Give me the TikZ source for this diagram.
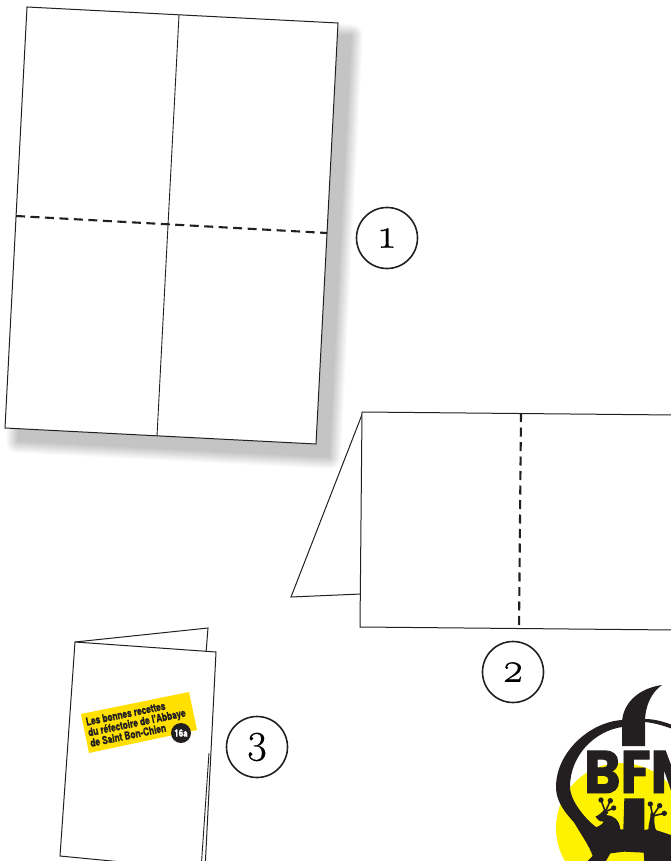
\documentclass[tikz,border=0pt]{standalone}
\usepackage{fontspec}
\newfontfamily\logofont{Poppins}[BoldFeatures={FakeBold=1.6}]
\newfontfamily\bannerfont{TeX Gyre Heros}[BoldFeatures={FakeBold=1.4}]
\newfontfamily\stepfont{Latin Modern Roman}[Numbers=OldStyle,FakeBold=0.5]
\definecolor{ink}{HTML}{231F20}
\definecolor{bannerfill}{HTML}{FFE000}
\definecolor{logofill}{HTML}{FFF200}

\begin{document}
\begin{tikzpicture}[
  x=1pt, y=-1pt,
  sheet/.style={draw=ink, line width=1pt, line join=miter, fill=white},
  crease/.style={draw=ink, line width=0.9pt},
  foldline/.style={draw=ink, line width=2.1pt, dash pattern=on 9pt off 5.5pt},
  stepnum/.style={draw=ink, line width=1.6pt, circle, minimum size=61pt, inner sep=0pt,
    font=\stepfont\fontsize{42}{42}\selectfont},
  toe/.style={fill=ink, draw=none},
  digit/.style={draw=ink, line width=1.6pt}
]
\clip[use as bounding box] (0,0) rectangle (671,861);

% shadow under the first sheet
\foreach \w in {24,23,...,0}{
  \pgfmathsetmacro{\shade}{23*(1-\w/25)}
  \filldraw[draw=black!\shade, fill=black!\shade, line width=\w pt, line join=round]
    (40,20) -- (351,36) -- (329,457) -- (18,441) -- cycle;
}

% first sheet
\draw[sheet] (27,7) -- (338,23) -- (316,444) -- (5,428) -- cycle;
\draw[crease] (179,15) -- (157,436);
\draw[foldline] (16,216) -- (327,233);
\node[stepnum] (one) at (387,238) {1};

% second sheet
\draw[sheet] (363,412) -- (291,597) -- (361,594);
\draw[sheet] (362,412) -- (675,415) -- (675,630) -- (360,627) -- cycle;
\draw[foldline] (521,413) -- (519,629);
\node[stepnum] (two) at (513,672) {2};

% folded leaflet
\draw[sheet] (75,642) -- (208,628) -- (206,653);
\draw[sheet] (216,652) -- (75,642) -- (60,856) -- (205,870) -- cycle;
\draw[crease] (209,753) -- (201,870);
\fill[bannerfill] (81,714) -- (189,692) -- (197,730) -- (89,753) -- cycle;
\node[anchor=west, rotate=11.6, inner sep=0pt, align=left, xscale=0.76, transform shape,
  font=\bannerfont\bfseries\fontsize{11}{10.8}\selectfont, text=ink] (title) at (88,732.5)
  {Les bonnes recettes\\du réfectoire de l'Abbaye\\de Saint Bon-Chien};
\node[circle, fill=ink, minimum size=20pt, inner sep=0pt] (issue) at (181,733) {};
\node[text=white, inner sep=0pt, xscale=0.8, transform shape,
  font=\bannerfont\bfseries\fontsize{10}{10}\selectfont] (issuenum) at (issue) {16a};
\node[stepnum] (three) at (257,747) {3};

% logo
\fill[logofill] (621,828) circle[radius=65];
\fill[ink] (593,840) .. controls (570,820) and (556,805) .. (556,787)
  .. controls (556,752) and (590,722) .. (622,720) -- (645,719)
  .. controls (655,719) and (665,722) .. (675,726) -- (675,730)
  .. controls (665,726) and (655,723) .. (645,722) -- (622,727)
  .. controls (595,731) and (570,755) .. (570,787)
  .. controls (570,800) and (585,820) .. (600,830) -- cycle;
\fill[ink] (622,746) -- (622,722) .. controls (623,702) and (640,688) .. (662,685)
  .. controls (652,692) and (645,705) .. (645,722) -- (645,746) -- cycle;
\node[anchor=base west, inner sep=0pt, text=ink, xscale=0.92, transform shape,
  font=\logofont\bfseries\fontsize{60}{60}\selectfont] (logoname) at (584,793) {BFM};
\begin{scope}[shift={(571,780)}, scale=1/3]
  \fill[ink] (0,75) .. controls (15,105) and (30,130) .. (62,148)
    .. controls (78,140) and (95,135) .. (98,125) .. controls (85,125) and (78,118) .. (73,110)
    .. controls (85,105) and (95,95) .. (100,88) -- (112,98)
    .. controls (108,102) and (106,104) .. (105,105) .. controls (125,105) and (145,118) .. (148,148)
    -- (157,148) -- (160,55) -- (220,55) -- (220,150) -- (232,148)
    .. controls (232,130) and (240,115) .. (238,100) -- (252,100)
    .. controls (248,120) and (250,140) .. (255,150) -- (300,165)
    -- (300,243) -- (220,243) -- (218,218) -- (160,215) -- (118,220) -- (105,243)
    -- (50,243) -- (65,228) .. controls (55,195) and (20,150) .. (0,110) -- cycle;
  \foreach \u/\v in {90/60,118/62,128/84}{
    \fill[toe] (\u,\v) circle[radius=8];
    \draw[digit] (103,95) -- (\u,\v);
  }
  \foreach \u/\v in {238/72,266/77,280/100}{
    \fill[toe] (\u,\v) circle[radius=8];
    \draw[digit] (245,108) -- (\u,\v);
  }
\end{scope}
\end{tikzpicture}
\end{document}
